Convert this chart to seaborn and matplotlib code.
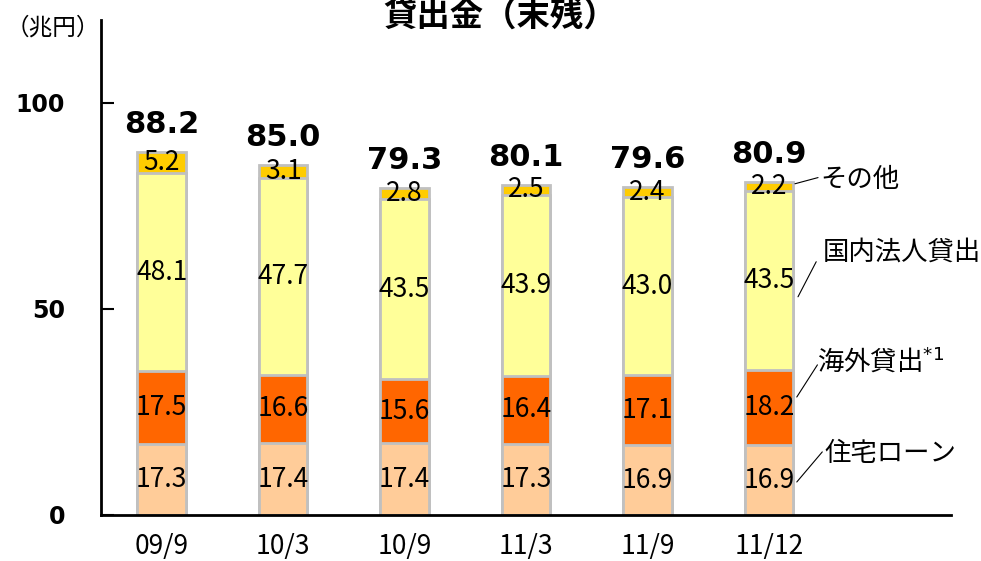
import numpy as np
import pandas as pd
import matplotlib
matplotlib.use("Agg")
import matplotlib.pyplot as plt
import seaborn as sns

# ---- data ----
periods = ["09/9", "10/3", "10/9", "11/3", "11/9", "11/12"]
housing = [17.3, 17.4, 17.4, 17.3, 16.9, 16.9]      # 住宅ローン
overseas = [17.5, 16.6, 15.6, 16.4, 17.1, 18.2]     # 海外貸出
domestic = [48.1, 47.7, 43.5, 43.9, 43.0, 43.5]     # 国内法人貸出
other = [5.2, 3.1, 2.8, 2.5, 2.4, 2.2]              # その他
totals = [88.2, 85.0, 79.3, 80.1, 79.6, 80.9]
series_names = ["住宅ローン", "海外貸出", "国内法人貸出", "その他"]
series_labels = ["住宅ローン", "海外貸出$^{*1}$", "国内法人貸出", "その他"]
colors = ["#FFCC99", "#FF6600", "#FFFF99", "#FFCC00"]
title = "貸出金（末残）"
unit = "（兆円）"
yticks = [0, 50, 100]

sns.set_theme(style="white")
plt.rcParams["font.family"] = ["Noto Sans CJK JP", "DejaVu Sans"]
plt.rcParams["text.color"] = "black"
plt.rcParams["xtick.color"] = "black"
plt.rcParams["ytick.color"] = "black"
plt.rcParams["axes.labelcolor"] = "black"

df = pd.DataFrame({"period": periods, "住宅ローン": housing, "海外貸出": overseas,
                   "国内法人貸出": domestic, "その他": other})
cum = df[series_names].cumsum(axis=1)

fig = plt.figure(figsize=(9.81, 5.61), dpi=100)
ax = fig.add_axes([101 / 981, 1 - 515 / 561, 850 / 981, 495 / 561])

# draw from top layer down so lower layers overlay
for name, col in reversed(list(zip(series_names, colors))):
    sns.barplot(x=df["period"], y=cum[name], order=periods, color=col,
                saturation=1, width=0.4, edgecolor="#C0C0C0", linewidth=2,
                ax=ax, zorder=2)

# segment value labels
for i in range(len(periods)):
    bottom = 0.0
    for name in series_names:
        v = df[name][i]
        ax.text(i, bottom + v / 2, f"{v:.1f}", ha="center", va="center",
                fontsize=19, color="black", zorder=5)
        bottom += v
    ax.text(i, totals[i] + 4.5, f"{totals[i]:.1f}", ha="center", va="baseline",
            fontsize=22, fontweight="bold", family="DejaVu Sans", color="black", zorder=5)

# right-side series labels with leader lines
label_pos = {"その他": (5.42, 81.3), "国内法人貸出": (5.44, 63.8),
             "海外貸出": (5.40, 37.1), "住宅ローン": (5.46, 15.0)}
leader = {"その他": ((5.215, 80.3), (5.405, 81.8)),
          "国内法人貸出": ((5.24, 52.9), (5.39, 61.4)),
          "海外貸出": ((5.23, 28.6), (5.40, 36.4)),
          "住宅ローン": ((5.23, 8.0), (5.44, 15.3))}
for name, lab in zip(series_names, series_labels):
    x, y = label_pos[name]
    ax.text(x, y, lab, ha="left", va="center", fontsize=19, color="black", zorder=5)
    (x0, y0), (x1, y1) = leader[name]
    ax.plot([x0, x1], [y0, y1], color="black", lw=0.8, zorder=5)

ax.set_xlim(-0.5, 6.5)
ax.set_ylim(0, 120)
ax.set_xlabel("")
ax.set_ylabel("")
ax.set_yticks(yticks)
ax.set_yticklabels([str(t) for t in yticks], fontsize=17, fontweight="bold",
                   family="DejaVu Sans")
ax.set_xticks(range(len(periods)))
ax.set_xticklabels(periods, fontsize=19)
ax.set_xticks(np.arange(0.5, 7.0, 1.0), minor=True)
ax.tick_params(axis="x", which="major", length=0, pad=13)
ax.tick_params(axis="x", which="minor", direction="in", length=9, width=1.5, color="black")
ax.tick_params(axis="y", which="major", direction="in", length=9, width=1.5,
               color="black", pad=26, left=True)
for s in ["top", "right"]:
    ax.spines[s].set_visible(False)
for s in ["left", "bottom"]:
    ax.spines[s].set_color("black")
    ax.spines[s].set_linewidth(2)
ax.grid(False)
ax.set_facecolor("white")

fig.text(500 / 981, 1 - 1 / 561, title, ha="center", va="top", fontsize=24,
         fontweight="bold", color="black")
fig.text(6 / 981, 1 - 28 / 561, unit, ha="left", va="center", fontsize=17, color="black")

fig.savefig("out.png", dpi=100, facecolor="white")
